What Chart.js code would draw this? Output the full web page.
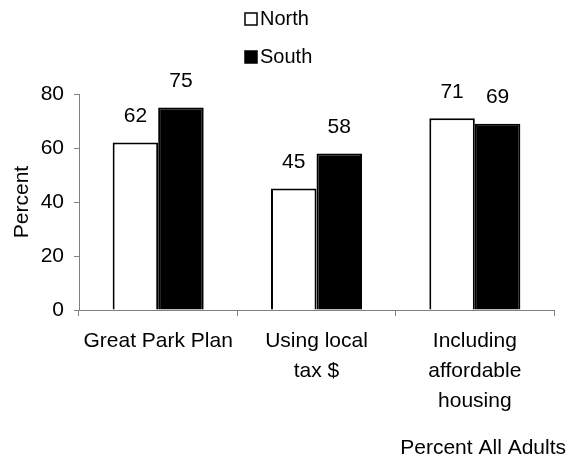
<!DOCTYPE html>
<html>
<head>
<meta charset="utf-8">
<script src="https://cdn.jsdelivr.net/npm/chart.js@4/dist/chart.umd.min.js"></script>
<style>
  html, body { margin: 0; padding: 0; background: #fff; }
  canvas { display: block; }
</style>
</head>
<body>
<canvas id="chart" width="582" height="461"></canvas>
<script>
var categories = [['Great Park Plan'], ['Using local', 'tax $'], ['Including', 'affordable', 'housing']];
var seriesNames = ['North', 'South'];
var northValues = [62, 45, 71];
var southValues = [75, 58, 69];
var yTickValues = [0, 20, 40, 60, 80];

(function render(win, doc) {
  var font = 'Liberation Sans, Arial, sans-serif';
  var axisColor = '#808080';

  // labels over bars, the stacked legend and the bottom-right caption
  var extras = {
    id: 'extras',
    afterDatasetsDraw: function (chart) {
      var ctx = chart.ctx;
      ctx.save();
      ctx.fillStyle = '#000';
      ctx.font = '21px ' + font;
      ctx.textAlign = 'center';
      ctx.textBaseline = 'middle';
      chart.data.datasets.forEach(function (ds, i) {
        chart.getDatasetMeta(i).data.forEach(function (bar, j) {
          ctx.fillText(String(ds.data[j]), bar.x, bar.y - 26);
        });
      });

      ctx.textAlign = 'right';
      ctx.fillText('Percent All Adults', 566, 448);

      ctx.font = '20px ' + font;
      ctx.textAlign = 'left';
      chart.data.datasets.forEach(function (ds, i) {
        var y = 19 + i * 38;
        ctx.fillStyle = ds.backgroundColor;
        ctx.fillRect(245, y - 6, 12, 12);
        ctx.strokeStyle = '#000';
        ctx.lineWidth = 1.5;
        ctx.strokeRect(245, y - 6, 12, 12);
        ctx.fillStyle = '#000';
        ctx.fillText(ds.label, 260, y);
      });
      ctx.restore();
    }
  };

  new Chart(doc.getElementById('chart'), {
    type: 'bar',
    data: {
      labels: categories,
      datasets: [
        { label: seriesNames[0], data: northValues, backgroundColor: '#ffffff', borderColor: '#000000', borderWidth: 2 },
        { label: seriesNames[1], data: southValues, backgroundColor: '#000000', borderColor: '#000000', borderWidth: 2 }
      ]
    },
    options: {
      responsive: false,
      animation: false,
      layout: { padding: { top: 94, right: 28, bottom: 0, left: 0 } },
      datasets: { bar: { categoryPercentage: 0.575, barPercentage: 1.0 } },
      plugins: { legend: { display: false }, tooltip: { enabled: false } },
      scales: {
        x: {
          afterFit: function (s) { s.height = 151; },
          border: { color: axisColor, width: 1 },
          grid: { offset: true, drawOnChartArea: false, tickLength: 6, color: axisColor },
          ticks: { color: '#000', padding: 10, font: { family: font, size: 21, lineHeight: 1.43 }, maxRotation: 0 }
        },
        y: {
          min: 0,
          max: 80,
          afterFit: function (s) { s.width = 79; },
          afterBuildTicks: function (s) { s.ticks = yTickValues.map(function (v) { return { value: v }; }); },
          border: { color: axisColor, width: 1 },
          grid: { drawOnChartArea: false, tickLength: 5, color: axisColor },
          ticks: { color: '#000', padding: 10, font: { family: font, size: 21 } },
          title: { display: true, text: 'Percent', color: '#000', padding: { top: 10, bottom: 0 }, font: { family: font, size: 21 } }
        }
      }
    },
    plugins: [extras]
  });
})(window, document);
</script>
</body>
</html>
